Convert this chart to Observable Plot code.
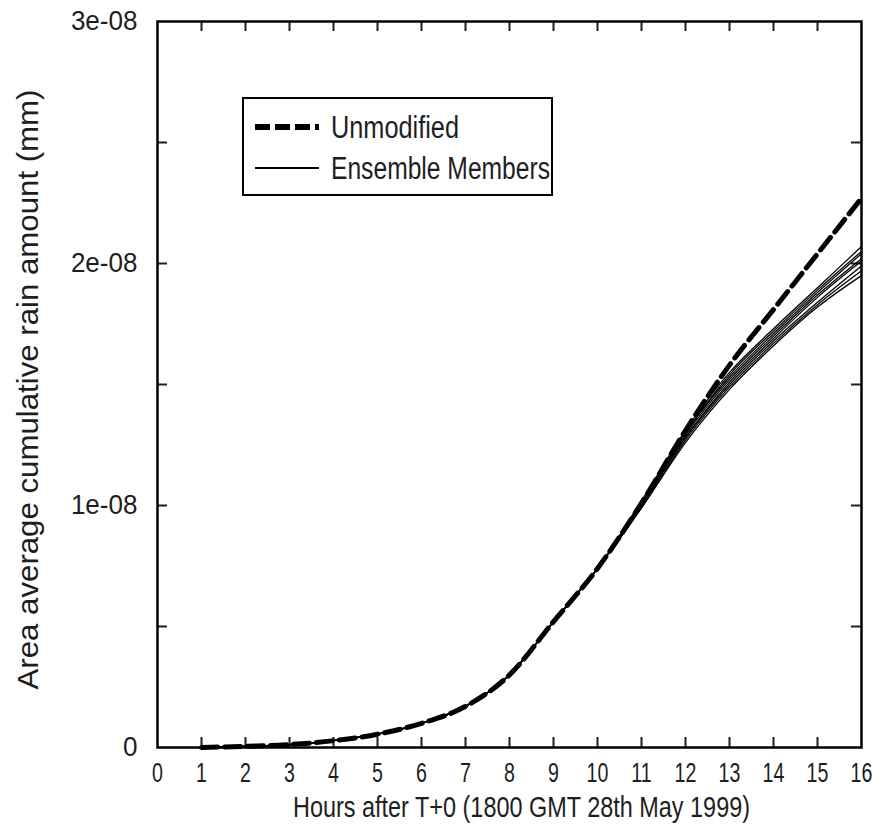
<!DOCTYPE html>
<html>
<head>
<meta charset="utf-8">
<script src="https://cdn.jsdelivr.net/npm/d3@7"></script>
<script src="https://cdn.jsdelivr.net/npm/@observablehq/plot@0.6"></script>
<style>
  body { margin: 0; background: #fff; }
  #wrap { position: relative; width: 877px; height: 837px; }
  #legend { position: absolute; left: 242px; top: 97px; overflow: visible; }
</style>
</head>
<body>
<div id="wrap"></div>
<script>
// Hours after T+0
const hours = [1, 2, 3, 4, 5, 6, 7, 8, 9, 10, 11, 12, 13, 14, 15, 16];

// Area average cumulative rain, in units of 1e-08 mm
const unmodified = [0, 0.005, 0.012, 0.028, 0.055, 0.10, 0.17, 0.30, 0.52, 0.74, 1.01, 1.31, 1.58, 1.81, 2.04, 2.27];

const member1 = [0, 0.005, 0.012, 0.028, 0.055, 0.10, 0.17, 0.30, 0.52, 0.74, 1.02, 1.31, 1.55, 1.73, 1.90, 2.07];
const member2 = [0, 0.005, 0.012, 0.028, 0.055, 0.10, 0.17, 0.30, 0.52, 0.74, 1.01, 1.30, 1.54, 1.72, 1.89, 2.05];
const member3 = [0, 0.005, 0.012, 0.028, 0.055, 0.10, 0.17, 0.30, 0.52, 0.74, 1.01, 1.30, 1.53, 1.71, 1.88, 2.04];
const member4 = [0, 0.005, 0.012, 0.028, 0.055, 0.10, 0.17, 0.30, 0.52, 0.74, 1.00, 1.29, 1.52, 1.70, 1.87, 2.02];
const member5 = [0, 0.005, 0.012, 0.028, 0.055, 0.10, 0.17, 0.30, 0.52, 0.74, 1.00, 1.28, 1.51, 1.69, 1.86, 2.01];
const member6 = [0, 0.005, 0.012, 0.028, 0.055, 0.10, 0.17, 0.30, 0.52, 0.74, 1.00, 1.28, 1.50, 1.68, 1.84, 1.99];
const member7 = [0, 0.005, 0.012, 0.028, 0.055, 0.10, 0.17, 0.30, 0.52, 0.74, 0.99, 1.27, 1.49, 1.67, 1.83, 1.97];
const member8 = [0, 0.005, 0.012, 0.028, 0.055, 0.10, 0.17, 0.30, 0.52, 0.74, 0.99, 1.26, 1.48, 1.66, 1.82, 1.95];
const members = [member1, member2, member3, member4, member5, member6, member7, member8];

// Axis ticks
const xTickValues = [0, 1, 2, 3, 4, 5, 6, 7, 8, 9, 10, 11, 12, 13, 14, 15, 16];
const xInnerTicks = [1, 2, 3, 4, 5, 6, 7, 8, 9, 10, 11, 12, 13, 14, 15];
const yTickValues = [0, 1, 2, 3];
const yTickLabels = ["0", "1e-08", "2e-08", "3e-08"];
const yInnerTicks = [0.5, 1, 1.5, 2, 2.5];

const xLabel = "Hours after T+0 (1800 GMT 28th May 1999)";
const yLabel = "Area average cumulative rain amount (mm)";
const legendLabels = ["Unmodified", "Ensemble Members"];

const unmodRows = hours.map((h, i) => ({hour: h, rain: unmodified[i]}));
const memberRows = members.flatMap((m, k) => hours.map((h, i) => ({member: k, hour: h, rain: m[i]})));

const W = 877, H = 837;
const mL = 157, mR = 16, mT = 21, mB = 90;
const plotW = W - mL - mR, plotH = H - mT - mB;
const tickLen = 10;
const ink = "#1e1e1e";
const font = `"Liberation Sans", Arial, sans-serif`;

const chart = Plot.plot({
  width: W,
  height: H,
  marginLeft: mL,
  marginRight: mR,
  marginTop: mT,
  marginBottom: mB,
  style: {fontFamily: font, fontSize: "28px", color: ink, background: "#fff"},
  x: {domain: [0, 16]},
  y: {domain: [0, 3]},
  marks: [
    Plot.axisX(xTickValues, {tickSize: 0, tickPadding: 15, label: null, fontSize: 28}),
    Plot.axisY(yTickValues, {tickSize: 0, tickPadding: 20, label: null, fontSize: 28,
      tickFormat: (d) => yTickLabels[yTickValues.indexOf(d)]}),
    // inward tick marks on all four sides
    Plot.tickX(xInnerTicks, {x: (d) => d, insetTop: plotH - tickLen, strokeWidth: 2}),
    Plot.tickX(xInnerTicks, {x: (d) => d, insetBottom: plotH - tickLen, strokeWidth: 2}),
    Plot.tickY(yInnerTicks, {y: (d) => d, insetRight: plotW - tickLen, strokeWidth: 2}),
    Plot.tickY(yInnerTicks, {y: (d) => d, insetLeft: plotW - tickLen, strokeWidth: 2}),
    Plot.line(memberRows, {x: "hour", y: "rain", z: "member", stroke: "#000", strokeWidth: 1.3, curve: "monotone-x"}),
    Plot.line(unmodRows, {x: "hour", y: "rain", stroke: "#000", strokeWidth: 5, strokeDasharray: "16,7", curve: "monotone-x"}),
    Plot.frame({stroke: "#000", strokeWidth: 2.5}),
    Plot.text([xLabel], {frameAnchor: "bottom", lineAnchor: "middle", dy: 60, dx: 12, fontSize: 30, fill: ink}),
    Plot.text([yLabel], {frameAnchor: "left", rotate: -90, textAnchor: "middle", dx: -129, dy: 5, fontSize: 30, fill: ink})
  ]
});

const wrap = document.getElementById("wrap");
wrap.appendChild(chart);

// legend box
const legend = d3.select(wrap).append("svg")
  .attr("id", "legend")
  .attr("width", 330)
  .attr("height", 99)
  .style("font-family", font);
legend.append("rect").attr("x", 1).attr("y", 1).attr("width", 309).attr("height", 97)
  .attr("fill", "#fff").attr("stroke", "#000").attr("stroke-width", 2);
legend.append("line").attr("x1", 13).attr("x2", 77).attr("y1", 30).attr("y2", 30)
  .attr("stroke", "#000").attr("stroke-width", 6).attr("stroke-dasharray", "15,5");
legend.append("line").attr("x1", 13).attr("x2", 77).attr("y1", 71).attr("y2", 71)
  .attr("stroke", "#000").attr("stroke-width", 2);
legend.selectAll("text").data(legendLabels).join("text")
  .attr("x", 89)
  .attr("y", (d, i) => (i === 0 ? 30 : 71))
  .attr("dy", "0.35em")
  .attr("font-size", 31)
  .attr("fill", ink)
  .text((d) => d);

// The lettering is set in a narrow face: compress each text horizontally.
function squash(el, k, target) {
  const w = el.getComputedTextLength();
  el.setAttribute("textLength", target != null ? target : w * k);
  el.setAttribute("lengthAdjust", "spacingAndGlyphs");
}
d3.select(chart).selectAll('g[aria-label="x-axis tick label"] text').each(function () { squash(this, 0.7); });
d3.select(chart).selectAll('g[aria-label="y-axis tick label"] text').each(function () { squash(this, 0.93); });
d3.select(chart).selectAll("text").each(function () {
  if (this.textContent === xLabel) squash(this, null, 457);
  if (this.textContent === yLabel) squash(this, null, 600);
});
legend.selectAll("text").each(function (d, i) { squash(this, null, i === 0 ? 128 : 219); });
</script>
</body>
</html>
